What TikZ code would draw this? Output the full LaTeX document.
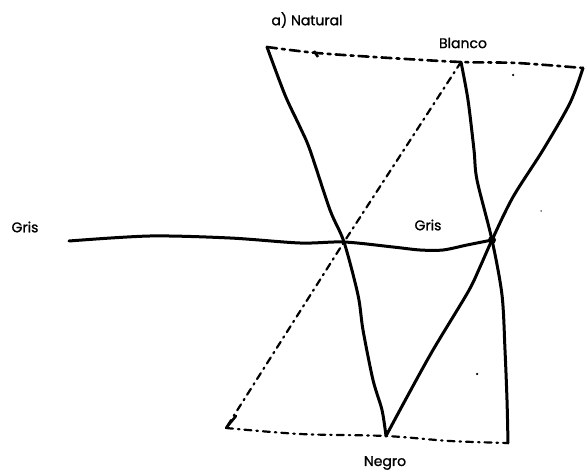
\documentclass[tikz,border=0pt]{standalone}
\usepackage{fontspec}
\setmainfont{Poppins}
\newfontfamily\lblfont{Poppins}[FakeBold=1.2]
\begin{document}
\begin{tikzpicture}[x=1pt,y=-1pt,
  lbl/.style={font=\lblfont\fontsize{14}{16}\selectfont, inner sep=0pt},
  solidline/.style={line width=3pt, line cap=round, line join=round},
  dashdotline/.style={line width=2.2pt, line cap=round, dash pattern=on 7pt off 5pt on 1.5pt off 5pt},
  dashline/.style={line width=2.6pt, line cap=round, dash pattern=on 10pt off 5pt on 3pt off 5pt},
  speck/.style={fill=black, inner sep=0pt, minimum size=2.5pt, circle}]
\useasboundingbox (0,0) rectangle (587,473);
% key points
\coordinate (A) at (267,47);
\coordinate (B) at (461,62);
\coordinate (C) at (583,68);
\coordinate (G1) at (344,242);
\coordinate (G2) at (492,240);
\coordinate (N) at (386,436);
\coordinate (D) at (226,428);
\coordinate (E) at (508,443);
\coordinate (W) at (69,241);
% labels
\node[lbl] (title) at (307,20) {a) Natural};
\node[lbl] (blanco) at (463,43) {Blanco};
\node[lbl] (grisL) at (25,227) {Gris};
\node[lbl] (grisM) at (428,225) {Gris};
\node[lbl] (negro) at (385,463) {Negro};
% top dashed edge
\draw[dashline] plot[smooth, tension=0.5] coordinates {(A) (317,53) (390,58) (B) (517,63) (C)};
\draw[line width=2.6pt] (314,51) -- (318,57);
% left solid side A -> G1 -> N
\draw[solidline] plot[smooth, tension=0.5] coordinates {(A) (285,95) (300,127) (310,150) (330,210) (G1) (358,295) (363,330) (373,380) (382,410) (N)};
% B -> G2 -> E
\draw[solidline] plot[smooth, tension=0.5] coordinates {(B) (468,100) (474,150) (477,180) (G2) (502,295) (505,350) (507,400) (E)};
% C -> G2 -> N
\draw[solidline] plot[smooth, tension=0.5] coordinates {(C) (570,103) (543,150) (513,197) (G2) (480,267) (468,292) (433,350) (407,397) (N)};
% B -> D dash-dot
\draw[dashdotline] (B) -- (G1) -- (D);
\draw[line width=2.6pt, line cap=round] (D) -- +(10,-12);
% bottom D -> N -> E dash-dot
\draw[dashdotline] plot[smooth, tension=0.5] coordinates {(D) (300,434) (N) (450,441) (E)};
% horizontal grey line
\draw[solidline] plot[smooth, tension=0.5] coordinates {(W) (150,236) (230,238) (300,243) (G1) (393,247) (420,250) (443,250) (467,245) (G2)};
\fill (G2) circle (4pt);
% specks
\node[speck] (s1) at (513,75) {};
\node[speck] (s2) at (477,374) {};
\node[speck, minimum size=1.5pt] (s3) at (541,211) {};
\end{tikzpicture}
\end{document}
